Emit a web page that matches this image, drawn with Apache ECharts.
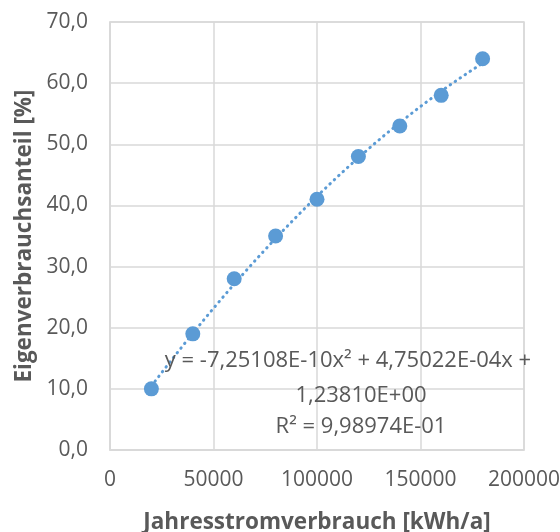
<!DOCTYPE html>
<html>
<head>
<meta charset="utf-8">
<script src="https://cdn.jsdelivr.net/npm/echarts@6/dist/echarts.min.js"></script>
<style>
  html, body { margin: 0; padding: 0; background: #fff; }
  #chart { width: 560px; height: 532px; }
</style>
</head>
<body>
<div id="chart"></div>
<script>
// values
const verbrauch = [20000, 40000, 60000, 80000, 100000, 120000, 140000, 160000, 180000];
const anteil = [10, 19, 28, 35, 41, 48, 53, 58, 64];
const trendLines = ['y = -7,25108E-10x\u00b2 + 4,75022E-04x +', '1,23810E+00', 'R\u00b2 = 9,98974E-01'];

// least squares quadratic fit (like Excel's polynomial trendline)
function fitQuad(xs, ys) {
  let s = [0, 0, 0, 0, 0], t = [0, 0, 0];
  for (let i = 0; i < xs.length; i++) {
    const x = xs[i] / 1e5, y = ys[i];
    for (let k = 0; k < 5; k++) s[k] += Math.pow(x, k);
    for (let k = 0; k < 3; k++) t[k] += Math.pow(x, k) * y;
  }
  const m = [[s[0], s[1], s[2], t[0]], [s[1], s[2], s[3], t[1]], [s[2], s[3], s[4], t[2]]];
  for (let c = 0; c < 3; c++) {
    for (let r = c + 1; r < 3; r++) {
      const f = m[r][c] / m[c][c];
      for (let k = c; k < 4; k++) m[r][k] -= f * m[c][k];
    }
  }
  const b = [0, 0, 0];
  for (let r = 2; r >= 0; r--) {
    let v = m[r][3];
    for (let k = r + 1; k < 3; k++) v -= m[r][k] * b[k];
    b[r] = v / m[r][r];
  }
  return x => { const u = x / 1e5; return b[0] + b[1] * u + b[2] * u * u; };
}

const trend = fitQuad(verbrauch, anteil);
const trendData = [];
const x0 = verbrauch[0], x1 = verbrauch[verbrauch.length - 1];
for (let i = 0; i <= 80; i++) {
  const x = x0 + (x1 - x0) * i / 80;
  trendData.push([x, trend(x)]);
}

const grey = '#595959';
const gridCol = '#d9d9d9';
const font = '"Open Sans", sans-serif';

// equation label: first line sits a bit left of the other two
const labelX = [348, 361, 361];
const labelY = [350, 385, 416];

const chart = echarts.init(document.getElementById('chart'));
chart.setOption({
  animation: false,
  grid: {
    left: 110, right: 36, top: 22, bottom: 82,
    outerBoundsMode: 'none',
    show: true, borderColor: gridCol, borderWidth: 1.5
  },
  xAxis: {
    type: 'value', min: 0, max: 200000, interval: 50000,
    name: 'Jahresstromverbrauch [kWh/a]',
    nameLocation: 'middle', nameGap: 61,
    nameTextStyle: { color: grey, fontSize: 22.5, fontWeight: 'bold', fontFamily: font },
    axisLine: { show: true, lineStyle: { color: gridCol, width: 1.5 } },
    axisTick: { show: false },
    axisLabel: { color: grey, fontSize: 21, fontFamily: font, margin: 20, formatter: v => String(v) },
    splitLine: { lineStyle: { color: gridCol, width: 1.5 } }
  },
  yAxis: {
    type: 'value', min: 0, max: 70, interval: 10,
    name: 'Eigenverbrauchsanteil [%]',
    nameLocation: 'middle', nameGap: 72,
    nameTextStyle: { color: grey, fontSize: 22.5, fontWeight: 'bold', fontFamily: font },
    axisLine: { show: true, lineStyle: { color: gridCol, width: 1.5 } },
    axisTick: { show: false },
    axisLabel: {
      color: grey, fontSize: 21, fontFamily: font, margin: 22,
      formatter: v => v.toFixed(1).replace('.', ',')
    },
    splitLine: { lineStyle: { color: gridCol, width: 1.5 } }
  },
  series: [
    {
      type: 'line',
      data: trendData,
      showSymbol: false,
      lineStyle: { color: '#5b9bd5', width: 3, type: [0.5, 5.5], cap: 'round' },
      z: 2
    },
    {
      type: 'scatter',
      data: verbrauch.map((x, i) => [x, anteil[i]]),
      symbolSize: 15,
      itemStyle: { color: '#5b9bd5', opacity: 1 },
      z: 3
    }
  ],
  graphic: trendLines.map((t, i) => ({
    type: 'text',
    x: labelX[i], y: labelY[i],
    z: 10,
    style: {
      text: t,
      fill: grey,
      font: '22px ' + font,
      align: 'center'
    }
  }))
});
</script>
</body>
</html>
